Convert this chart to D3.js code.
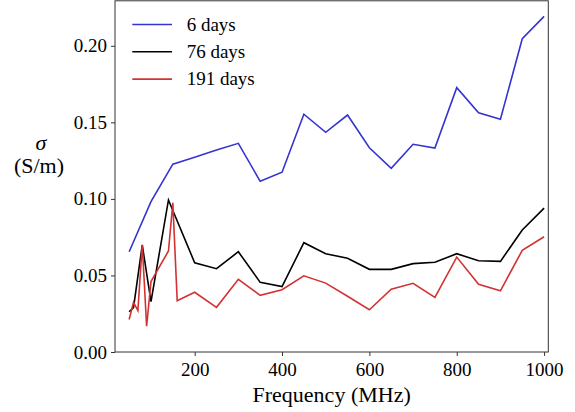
<!DOCTYPE html>
<html>
<head>
<meta charset="utf-8">
<script src="https://cdn.jsdelivr.net/npm/d3@7"></script>
</head>
<body style="margin:0">
<svg id="chart" width="575" height="412" style="display:block;font-family:'Liberation Serif'"></svg>
<script>
// ---- data ----
const freqBlue  = [50, 100, 150, 200, 250, 300, 350, 400, 450, 500, 550, 600, 650, 700, 750, 800, 850, 900, 950, 1000];
const sigma6    = [0.0655, 0.0982, 0.1227, 0.1272, 0.1320, 0.1363, 0.1115, 0.1174, 0.1553, 0.1435, 0.1548, 0.1334, 0.1200, 0.1357, 0.1332, 0.1727, 0.1563, 0.1520, 0.2046, 0.2192];

const freqBlack = [50, 60, 80, 100, 140, 200, 250, 300, 350, 400, 450, 500, 550, 600, 650, 700, 750, 800, 850, 900, 950, 1000];
const sigma76   = [0.0263, 0.0290, 0.0699, 0.0329, 0.0993, 0.0583, 0.0544, 0.0655, 0.0455, 0.0427, 0.0714, 0.0642, 0.0612, 0.0540, 0.0540, 0.0577, 0.0586, 0.0642, 0.0596, 0.0592, 0.0797, 0.0940];

const freqRed   = [50, 60, 70, 80, 90, 100, 140, 150, 160, 200, 250, 300, 350, 400, 450, 500, 550, 600, 650, 700, 750, 800, 850, 900, 950, 1000];
const sigma191  = [0.0212, 0.0325, 0.0271, 0.0701, 0.0168, 0.0460, 0.0660, 0.0974, 0.0335, 0.0390, 0.0292, 0.0475, 0.0370, 0.0407, 0.0498, 0.0450, 0.0364, 0.0276, 0.0410, 0.0449, 0.0357, 0.0620, 0.0442, 0.0400, 0.0664, 0.0753];

const seriesNames  = ["6 days", "76 days", "191 days"];
const seriesColors = ["#3434d0", "#000000", "#d23232"];

const xTicks = [200, 400, 600, 800, 1000];
const yTicks = [0.00, 0.05, 0.10, 0.15, 0.20];

// ---- layout ----
const mLeft = 115, mRight = 548.3, mTop = 0.8, mBottom = 352;
const svg = d3.select("#chart");
const fontStyle = (size, extra) => `font-family:'Liberation Serif' !important;font-size:${size}px;${extra || ""}`;

const x = d3.scaleLinear().domain([17.6, 1009.6]).range([mLeft, mRight]);
const y = d3.scaleLinear().domain([0, 0.2294]).range([mBottom, mTop]);

const series = [
  { name: seriesNames[0], color: seriesColors[0], xs: freqBlue,  ys: sigma6 },
  { name: seriesNames[1], color: seriesColors[1], xs: freqBlack, ys: sigma76 },
  { name: seriesNames[2], color: seriesColors[2], xs: freqRed,   ys: sigma191 }
];

const line = d3.line().x(d => x(d[0])).y(d => y(d[1]));

svg.append("defs").append("clipPath").attr("id", "clip")
  .append("rect").attr("x", mLeft).attr("y", mTop).attr("width", mRight - mLeft).attr("height", mBottom - mTop);

const g = svg.append("g").attr("clip-path", "url(#clip)");
series.forEach(s => {
  g.append("path")
    .datum(s.xs.map((v, i) => [v, s.ys[i]]))
    .attr("d", line)
    .attr("fill", "none")
    .attr("stroke", s.color)
    .attr("stroke-width", 1.6)
    .attr("stroke-linejoin", "miter");
});

// axes
const xAxis = d3.axisBottom(x).tickValues(xTicks).tickFormat(d3.format("d")).tickSize(4).tickPadding(5);
const yAxis = d3.axisLeft(y).tickValues(yTicks).tickFormat(d3.format(".2f")).tickSize(4).tickPadding(4);

const gx = svg.append("g").attr("transform", `translate(0,${mBottom})`).call(xAxis);
const gy = svg.append("g").attr("transform", `translate(${mLeft},0)`).call(yAxis);
[gx, gy].forEach(a => {
  a.attr("font-family", "Liberation Serif").attr("font-size", 19);
  a.select(".domain").remove();
  a.selectAll(".tick line").attr("stroke", "#333").attr("stroke-width", 1);
  a.selectAll(".tick text").attr("style", fontStyle(19)).attr("fill", "#000");
});
gx.selectAll(".tick text").attr("dy", "0.78em");

// frame
svg.append("rect")
  .attr("x", mLeft).attr("y", mTop)
  .attr("width", mRight - mLeft).attr("height", mBottom - mTop)
  .attr("fill", "none").attr("stroke", "#333").attr("stroke-width", 1);

// axis labels
svg.append("text")
  .attr("x", (mLeft + mRight) / 2).attr("y", 402)
  .attr("text-anchor", "middle")
  .attr("style", fontStyle(22))
  .text("Frequency (MHz)");

svg.append("text")
  .attr("x", 41).attr("y", 150)
  .attr("text-anchor", "middle")
  .attr("style", fontStyle(22, "font-style:italic;"))
  .text("σ");
svg.append("text")
  .attr("x", 39).attr("y", 173)
  .attr("text-anchor", "middle")
  .attr("style", fontStyle(22))
  .text("(S/m)");

// legend
const lg = svg.append("g");
series.forEach((s, i) => {
  const yy = 24.5 + i * 27.3;
  lg.append("line")
    .attr("x1", 132.3).attr("x2", 172).attr("y1", yy).attr("y2", yy)
    .attr("stroke", s.color).attr("stroke-width", 1.6);
  lg.append("text")
    .attr("x", 186.7).attr("y", yy).attr("dy", "0.33em")
    .attr("style", fontStyle(19))
    .text(s.name);
});
</script>
</body>
</html>
